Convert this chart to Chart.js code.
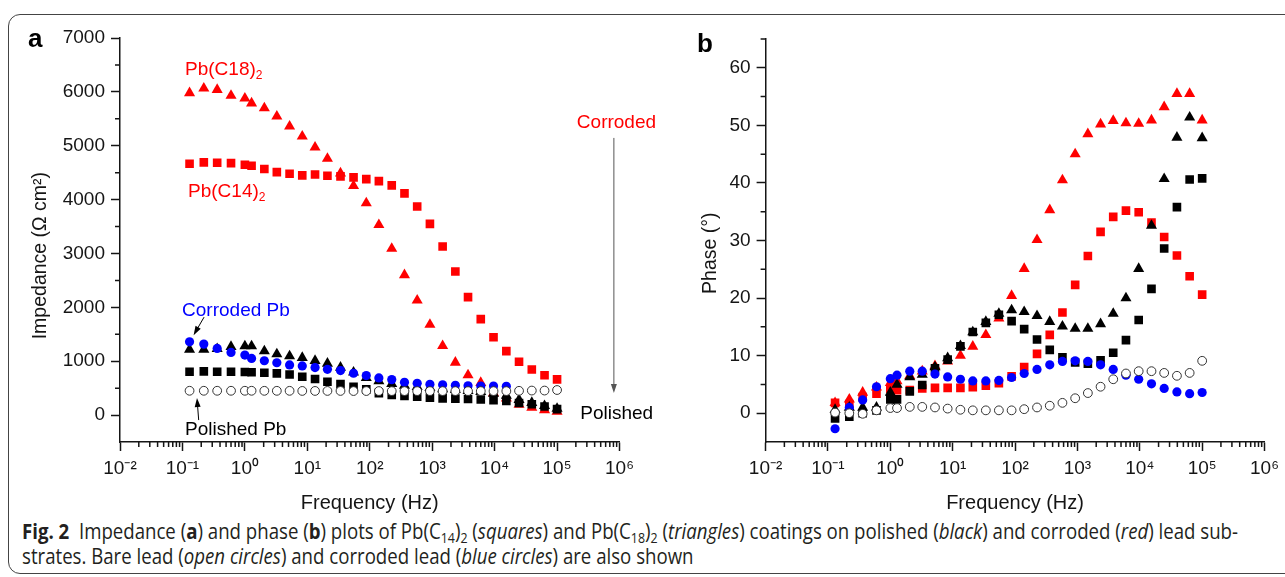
<!DOCTYPE html>
<html>
<head>
<meta charset="utf-8">
<script src="https://cdn.jsdelivr.net/npm/chart.js@4.4.1/dist/chart.umd.min.js"></script>
<style>
  html, body { margin: 0; padding: 0; background: #fff; }
  #fig { position: relative; width: 1285px; height: 577px; overflow: hidden; }
  #frame { position: absolute; left: 8px; top: 14px; width: 1400px; height: 560px; border: 1.5px solid #444; border-radius: 12px; box-sizing: border-box; }
  canvas { position: absolute; top: 0; }
  #impCanvas { left: 0; }
  #phaseCanvas { left: 650px; }
  .tag { position: absolute; font: bold 26px "Liberation Sans", Arial, sans-serif; line-height: 26px; color: #000; }
  #caption { position: absolute; left: 22px; top: 519px; font-family: "Open Sans", sans-serif; font-size: 21px; line-height: 25px; color: #231f20; transform-origin: 0 0; white-space: nowrap; }
  #caption span { display: inline-block; }
  #caption sub { font-size: 14px; vertical-align: -4px; line-height: 0; }
</style>
</head>
<body>
<div id="fig">
  <div id="frame"></div>
  <canvas id="impCanvas" width="665" height="515"></canvas>
  <canvas id="phaseCanvas" width="635" height="515"></canvas>
  <div class="tag" style="left:28px; top:25px;">a</div>
  <div class="tag" style="left:697px; top:30px;">b</div>
  <div id="caption"><span id="capLine1"><b>Fig. 2</b>&nbsp; Impedance (<b>a</b>) and phase (<b>b</b>) plots of Pb(C<sub>14</sub>)<sub>2</sub> (<i>squares</i>) and Pb(C<sub>18</sub>)<sub>2</sub> (<i>triangles</i>) coatings on polished (<i>black</i>) and corroded (<i>red</i>) lead sub-</span><br><span>strates. Bare lead (<i>open circles</i>) and corroded lead (<i>blue circles</i>) are also shown</span></div>
</div>
<script>
// frequencies (Hz), shared by every series
const freqHz = [0.13, 0.22, 0.36, 0.6, 1.0, 1.28, 2.05, 3.25, 5.2, 8.3, 13.3, 21, 34, 55, 88, 140, 225, 360, 575, 920, 1470, 2350, 3750, 6000, 9600, 15400, 24600, 39400, 63000, 100000];

// impedance (ohm cm2)
const impC14Corroded = [4666, 4690, 4684, 4678, 4647, 4628, 4567, 4510, 4480, 4450, 4467, 4443, 4430, 4412, 4380, 4343, 4263, 4115, 3873, 3550, 3130, 2665, 2190, 1780, 1445, 1187, 990, 845, 740, 663];
const impC18Corroded = [5980, 6065, 6040, 5930, 5880, 5790, 5700, 5545, 5360, 5175, 4970, 4760, 4490, 4255, 3935, 3530, 3090, 2600, 2130, 1680, 1286, 977, 742, 600, 410, 310, 195, 140, 95, 65];
const impC14Polished = [804, 810, 804, 804, 800, 795, 785, 773, 752, 712, 669, 618, 575, 526, 476, 408, 375, 355, 340, 322, 310, 305, 298, 290, 278, 260, 225, 200, 160, 110];
const impC18Polished = [1218, 1218, 1230, 1268, 1280, 1280, 1187, 1131, 1095, 1065, 1008, 958, 884, 792, 690, 630, 580, 550, 525, 505, 485, 470, 450, 430, 400, 360, 285, 230, 170, 120];
const impBarePb = [451, 451, 451, 451, 451, 451, 450, 450, 450, 448, 448, 448, 448, 446, 446, 446, 445, 445, 445, 445, 445, 445, 445, 445, 445, 445, 450, 455, 455, 465];
const impCorrodedPb = [1360, 1317, 1237, 1163, 1113, 1051, 1008, 971, 930, 913, 882, 850, 826, 776, 733, 690, 658, 609, 590, 571, 562, 553, 544, 540, 538, 535, null, null, null, null];

// phase (degrees)
const phC14Corroded = [1.8, 1.6, 2.8, 3.4, 4.2, 4.0, 4.0, 4.3, 4.4, 4.4, 4.4, 4.5, 4.8, 5.2, 6.4, 8.0, 10.3, 13.6, 17.5, 22.3, 27.3, 31.5, 34.1, 35.2, 34.9, 33.1, 30.6, 27.4, 23.8, 20.6];
const phC18Corroded = [1.8, 2.4, 3.6, 4.5, 5.3, 5.6, 6.5, 7.3, 8.2, 9.0, 10.0, 11.6, 13.6, 16.5, 20.4, 25.1, 30.1, 35.3, 40.5, 45.0, 48.5, 50.2, 50.8, 50.4, 50.3, 50.9, 53.2, 55.5, 55.5, 50.9];
const phC14Polished = [-0.9, -0.6, 0.0, 0.5, 2.4, 2.4, 3.8, 4.9, 7.8, 9.3, 11.6, 14.1, 15.7, 17.1, 16.0, 14.6, 12.8, 11.0, 9.7, 8.8, 8.6, 9.2, 10.5, 12.7, 16.2, 21.6, 28.6, 35.8, 40.6, 40.8];
const phC18Polished = [0.6, 1.0, 1.0, 1.0, 3.6, 5.0, 6.3, 6.7, 8.0, 9.6, 11.7, 14.1, 15.9, 17.3, 17.9, 17.6, 16.9, 15.9, 15.1, 14.7, 14.7, 15.5, 17.3, 20.0, 25.1, 32.6, 40.7, 47.9, 51.4, 47.8];
const phBarePb = [0.1, 0.0, -0.1, 0.5, 0.9, 0.9, 1.1, 1.1, 1.0, 0.8, 0.6, 0.5, 0.5, 0.5, 0.5, 0.7, 1.0, 1.3, 1.8, 2.6, 3.5, 4.6, 5.9, 6.9, 7.3, 7.3, 7.0, 6.5, 7.0, 9.1];
const phCorrodedPb = [-2.7, 1.0, 2.3, 4.6, 6.0, 6.6, 7.3, 7.3, 6.8, 6.3, 5.9, 5.6, 5.6, 5.7, 6.2, 6.9, 7.6, 8.4, 9.0, 9.1, 9.0, 8.4, 7.6, 6.6, 5.9, 5.1, 4.3, 3.7, 3.4, 3.6];

// axis ticks
const decadeExps = [-2, -1, 0, 1, 2, 3, 4, 5, 6];
const impMajorTicks = [0, 1000, 2000, 3000, 4000, 5000, 6000, 7000];
const impMinorTicks = [500, 1500, 2500, 3500, 4500, 5500, 6500];
const phaseMajorTicks = [0, 10, 20, 30, 40, 50, 60];
const phaseMinorTicks = [5, 15, 25, 35, 45, 55, 65];

const FONT = '"Liberation Sans", Arial, sans-serif';
const INK = '#151515';
const RED = '#ff0000', BLUE = '#0000ff';

Chart.defaults.font.family = FONT;
Chart.defaults.color = INK;

const supChars = { '-': '\u207B', '0': '\u2070', '1': '\u00B9', '2': '\u00B2', '3': '\u00B3', '4': '\u2074', '5': '\u2075', '6': '\u2076' };
const decadeLabel = v => '10' + String(Math.round(Math.log10(v))).split('').map(c => supChars[c]).join('');

// minor ticks: 2..9 within each decade
const freqMinorTicks = [];
decadeExps.slice(0, -1).forEach(e => {
  for (let m = 2; m <= 9; m++) freqMinorTicks.push(m * Math.pow(10, e));
});

const pts = vals => freqHz.map((f, i) => ({ x: f, y: vals[i] })).filter(p => p.y !== null);

function series(vals, style, color, radius) {
  const open = color === 'open';
  return {
    data: pts(vals),
    pointStyle: style,
    pointRadius: radius,
    pointHoverRadius: radius,
    backgroundColor: open ? '#ffffff' : color,
    borderColor: open ? '#333333' : color,
    borderWidth: open ? 1 : 0
  };
}

const minorTickPlugin = {
  id: 'minorTicks',
  afterDraw(chart, args, opts) {
    const ctx = chart.ctx;
    const xs = chart.scales.x, ys = chart.scales.y;
    ctx.save();
    ctx.strokeStyle = INK;
    ctx.lineWidth = 1.5;
    ctx.beginPath();
    opts.xValues.forEach(v => {
      const px = xs.getPixelForValue(v);
      ctx.moveTo(px, xs.top);
      ctx.lineTo(px, xs.top + opts.len);
    });
    opts.yValues.forEach(v => {
      const py = ys.getPixelForValue(v);
      ctx.moveTo(ys.right, py);
      ctx.lineTo(ys.right - opts.len, py);
    });
    ctx.stroke();
    ctx.restore();
  }
};

// vertical axis title, centred on a chosen value instead of the axis middle
const sideTitlePlugin = {
  id: 'sideTitle',
  afterDraw(chart, args, opts) {
    const ctx = chart.ctx;
    const ys = chart.scales.y;
    ctx.save();
    ctx.translate(ys.left + 10.5, ys.getPixelForValue(opts.center));
    ctx.rotate(-Math.PI / 2);
    ctx.font = '19.5px ' + FONT;
    ctx.fillStyle = INK;
    ctx.textAlign = 'center';
    ctx.textBaseline = 'middle';
    ctx.fillText(opts.text, 0, 0);
    ctx.restore();
  }
};

function drawArrow(ctx, x1, y1, x2, y2, color) {
  const a = Math.atan2(y2 - y1, x2 - x1);
  ctx.strokeStyle = color;
  ctx.fillStyle = color;
  ctx.lineWidth = 1;
  ctx.beginPath();
  ctx.moveTo(x1, y1);
  ctx.lineTo(x2 - 6 * Math.cos(a), y2 - 6 * Math.sin(a));
  ctx.stroke();
  ctx.beginPath();
  ctx.moveTo(x2, y2);
  ctx.lineTo(x2 - 9 * Math.cos(a) + 3 * Math.sin(a), y2 - 9 * Math.sin(a) - 3 * Math.cos(a));
  ctx.lineTo(x2 - 9 * Math.cos(a) - 3 * Math.sin(a), y2 - 9 * Math.sin(a) + 3 * Math.cos(a));
  ctx.closePath();
  ctx.fill();
}

// labels and arrows in panel a, placed in data units
const impNotes = [
  { runs: [['Pb(C18)', 0], ['2', 1]], f: 0.110, z: 6308, color: RED },
  { runs: [['Pb(C14)', 0], ['2', 1]], f: 0.123, z: 4045, color: RED },
  { runs: [['Corroded', 0]], f: 207500, z: 5325, color: RED },
  { runs: [['Polished', 0]], f: 235500, z: -74, color: '#000' },
  { runs: [['Corroded Pb', 0]], f: 0.0986, z: 1837, color: BLUE },
  { runs: [['Polished Pb', 0]], f: 0.110, z: -371, color: '#000' }
];
const impArrows = [
  { f1: 813000, z1: 5145, f2: 813000, z2: 408, color: '#555' },
  { f1: 0.222, z1: 1818, f2: 0.151, z2: 1484, color: '#000' },
  { f1: 0.182, z1: -93, f2: 0.171, z2: 315, color: '#000' }
];

const notePlugin = {
  id: 'notes',
  afterDraw(chart, args, opts) {
    const ctx = chart.ctx;
    const xs = chart.scales.x, ys = chart.scales.y;
    ctx.save();
    ctx.textBaseline = 'alphabetic';
    opts.notes.forEach(n => {
      let x = xs.getPixelForValue(n.f);
      const y = ys.getPixelForValue(n.z);
      ctx.fillStyle = n.color;
      n.runs.forEach(([t, sub]) => {
        ctx.font = (sub ? '12px ' : '19px ') + FONT;
        ctx.fillText(t, x, sub ? y + 4 : y);
        x += ctx.measureText(t).width;
      });
    });
    opts.arrows.forEach(a => {
      drawArrow(ctx, xs.getPixelForValue(a.f1), ys.getPixelForValue(a.z1),
        xs.getPixelForValue(a.f2), ys.getPixelForValue(a.z2), a.color);
    });
    ctx.restore();
  }
};

function makeChart(canvasId, cfg) {
  const yTicks = cfg.yMajor;
  return new Chart(document.getElementById(canvasId), {
    type: 'scatter',
    data: {
      datasets: [
        series(cfg.bare, 'circle', 'open', 4.4),
        series(cfg.corrodedPb, 'circle', BLUE, 4.6),
        series(cfg.c14Pol, 'rect', '#000', 6.1),
        series(cfg.c18Pol, 'triangle', '#000', 6.4),
        series(cfg.c14Cor, 'rect', RED, 6.1),
        series(cfg.c18Cor, 'triangle', RED, 6.4)
      ]
    },
    options: {
      responsive: false,
      animation: false,
      devicePixelRatio: 1,
      layout: { padding: cfg.padding },
      plugins: {
        legend: { display: false },
        tooltip: { enabled: false },
        minorTicks: { xValues: freqMinorTicks, yValues: cfg.yMinor, len: 5 },
        sideTitle: { text: cfg.yTitle, center: cfg.yTitleCenter },
        notes: cfg.notes || { notes: [], arrows: [] }
      },
      scales: {
        x: {
          type: 'logarithmic',
          min: 0.01,
          max: 1e6,
          afterBuildTicks: s => { s.ticks = decadeExps.map(e => ({ value: Math.pow(10, e) })); },
          afterFit: s => { s.height = 73; },
          ticks: { callback: v => decadeLabel(v), autoSkip: false, maxRotation: 0, font: { size: 19 }, color: INK, padding: 6 },
          grid: { drawOnChartArea: false, drawTicks: true, tickLength: 9, tickColor: INK, tickWidth: 1.5 },
          border: { display: true, color: INK, width: 1.5 },
          title: { display: true, text: 'Frequency (Hz)', font: { size: 20 }, color: INK, padding: 0 }
        },
        y: {
          type: 'linear',
          min: cfg.yMin,
          max: cfg.yMax,
          afterBuildTicks: s => { s.ticks = yTicks.map(v => ({ value: v })); },
          afterFit: s => { s.width = cfg.yWidth; },
          ticks: { callback: v => String(v), autoSkip: false, font: { size: 19 }, color: INK, padding: 6 },
          grid: { drawOnChartArea: false, drawTicks: true, tickLength: 9, tickColor: INK, tickWidth: 1.5 },
          border: { display: true, color: INK, width: 1.5 },
          title: { display: false }
        }
      }
    },
    plugins: [minorTickPlugin, sideTitlePlugin, notePlugin]
  });
}

makeChart('impCanvas', {
  bare: impBarePb, corrodedPb: impCorrodedPb,
  c14Pol: impC14Polished, c18Pol: impC18Polished,
  c14Cor: impC14Corroded, c18Cor: impC18Corroded,
  yMin: -500, yMax: 7000, yMajor: impMajorTicks, yMinor: impMinorTicks,
  yTitle: 'Impedance (\u03A9 cm\u00B2)', yTitleCenter: 2960, yWidth: 90,
  padding: { left: 30, top: 38, right: 45.5, bottom: 0 },
  notes: { notes: impNotes, arrows: impArrows }
});

makeChart('phaseCanvas', {
  bare: phBarePb, corrodedPb: phCorrodedPb,
  c14Pol: phC14Polished, c18Pol: phC18Polished,
  c14Cor: phC14Corroded, c18Cor: phC18Corroded,
  yMin: -5, yMax: 65, yMajor: phaseMajorTicks, yMinor: phaseMinorTicks,
  yTitle: 'Phase (\u00B0)', yTitleCenter: 27.8, yWidth: 65.6,
  padding: { left: 50, top: 39, right: 19.2, bottom: 0 }
});

// squeeze the caption to the width of the printed one
function fitCaption() {
  const cap = document.getElementById('caption');
  cap.style.transform = 'none';
  const w = document.getElementById('capLine1').getBoundingClientRect().width;
  cap.style.transform = 'scaleX(' + (1216 / w) + ')';
}
fitCaption();
if (document.fonts) document.fonts.ready.then(fitCaption);
</script>
</body>
</html>
